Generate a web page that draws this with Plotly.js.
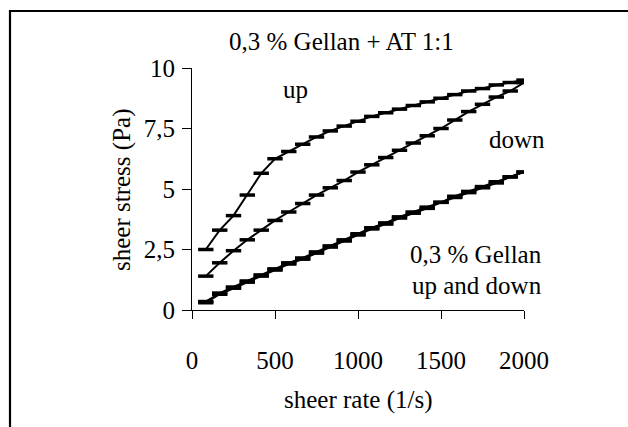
<!DOCTYPE html>
<html>
<head>
<meta charset="utf-8">
<script src="https://cdn.plot.ly/plotly-3.0.1.min.js"></script>
<style>
  html, body { margin: 0; padding: 0; background: #ffffff; }
  #chart { width: 628px; height: 427px; }
</style>
</head>
<body>
<div id="chart"></div>
<script>
// Shear rate steps (1/s)
const shearRate = [83, 167, 250, 333, 417, 500, 583, 667, 750, 833, 917, 1000,
                   1083, 1167, 1250, 1333, 1417, 1500, 1583, 1667, 1750, 1833, 1917, 2000];

// 0,3 % Gellan + AT 1:1, increasing shear rate (Pa)
const atUp = [2.5, 3.3, 3.9, 4.75, 5.65, 6.25, 6.55, 6.85, 7.15, 7.4, 7.6, 7.8,
              8.0, 8.15, 8.3, 8.45, 8.6, 8.75, 8.9, 9.05, 9.15, 9.3, 9.4, 9.5];

// 0,3 % Gellan + AT 1:1, decreasing shear rate (Pa)
const atDown = [1.4, 1.95, 2.45, 2.9, 3.3, 3.7, 4.05, 4.4, 4.75, 5.05, 5.35, 5.7,
                6.0, 6.3, 6.6, 6.9, 7.2, 7.5, 7.85, 8.2, 8.5, 8.8, 9.05, 9.4];

// 0,3 % Gellan alone, up and down curves (Pa)
const gellanUp = [0.35, 0.7, 0.95, 1.2, 1.45, 1.7, 1.95, 2.15, 2.4, 2.65, 2.9, 3.15,
                  3.4, 3.6, 3.85, 4.05, 4.25, 4.45, 4.7, 4.9, 5.1, 5.3, 5.5, 5.7];
const gellanDown = [0.3, 0.65, 0.9, 1.15, 1.4, 1.65, 1.9, 2.1, 2.35, 2.6, 2.85, 3.1,
                    3.35, 3.55, 3.8, 4.0, 4.2, 4.45, 4.65, 4.85, 5.05, 5.25, 5.5, 5.7];

const xTicks = [0, 500, 1000, 1500, 2000];
const yTicks = [0, 2.5, 5, 7.5, 10];

const FONT = 'Liberation Serif, Times New Roman, serif';

function series(y, name) {
  return {
    x: shearRate, y: y, name: name,
    type: 'scatter', mode: 'lines+markers',
    line: { color: '#000000', width: 2 },
    marker: { symbol: 'line-ew', size: 11, color: '#000000',
              line: { color: '#000000', width: 3.5 } },
    showlegend: false, hoverinfo: 'x+y'
  };
}

const data = [
  series(atUp, 'AT up'),
  series(atDown, 'AT down'),
  series(gellanUp, 'Gellan up'),
  series(gellanDown, 'Gellan down')
];

const baseAxis = {
  showgrid: false, zeroline: false, color: '#000000',
  tickcolor: '#000000', tickwidth: 1
};

const layout = {
  width: 628, height: 427,
  margin: { l: 192, r: 104, t: 68, b: 117 },
  paper_bgcolor: '#ffffff', plot_bgcolor: '#ffffff',
  separators: ', ',
  font: { family: FONT, size: 25, color: '#000000' },
  xaxis: Object.assign({}, baseAxis, {
    range: [0, 2000], tickvals: xTicks, ticks: 'outside', ticklen: 8,
    showline: true, linecolor: '#000000', linewidth: 1,
    ticklabelstandoff: 20, tickfont: { family: FONT, size: 25 }
  }),
  yaxis: Object.assign({}, baseAxis, {
    range: [0, 10], tickvals: yTicks, ticks: 'outside', ticklen: 9,
    showline: true, linecolor: '#000000', linewidth: 1,
    ticklabelstandoff: 2, tickfont: { family: FONT, size: 25 }
  }),
  // Mirror axes give the ticks their crossing halves
  xaxis2: Object.assign({}, baseAxis, {
    overlaying: 'x', side: 'bottom', range: [0, 2000], tickvals: xTicks,
    ticks: 'inside', ticklen: 8, showticklabels: false, showline: false
  }),
  yaxis2: Object.assign({}, baseAxis, {
    overlaying: 'y', side: 'left', range: [0, 10], tickvals: yTicks,
    ticks: 'inside', ticklen: 9, showticklabels: false, showline: false
  }),
  shapes: [
    { type: 'rect', xref: 'paper', yref: 'paper',
      x0: (10 - 192) / 332, x1: (640 - 192) / 332,
      y0: (311 - 440) / 242, y1: (311 - 12) / 242,
      line: { color: '#000000', width: 2.2 }, fillcolor: 'rgba(0,0,0,0)' }
  ],
  annotations: [
    { text: '0,3 % Gellan + AT 1:1', xref: 'paper', yref: 'paper',
      x: (341 - 192) / 332, y: (311 - 42) / 242, showarrow: false,
      xanchor: 'center', yanchor: 'middle', font: { family: FONT, size: 25 } },
    { text: 'up', xref: 'paper', yref: 'paper',
      x: (295 - 192) / 332, y: (311 - 90) / 242, showarrow: false,
      xanchor: 'center', yanchor: 'middle', font: { family: FONT, size: 25 } },
    { text: 'down', xref: 'paper', yref: 'paper',
      x: (547 - 192) / 332, y: (311 - 140) / 242, showarrow: false,
      xanchor: 'right', yanchor: 'middle', font: { family: FONT, size: 25 } },
    { text: '0,3 % Gellan', xref: 'paper', yref: 'paper',
      x: (544 - 192) / 332, y: (311 - 255) / 242, showarrow: false,
      xanchor: 'right', yanchor: 'middle', font: { family: FONT, size: 25 } },
    { text: 'up and down', xref: 'paper', yref: 'paper',
      x: (544 - 192) / 332, y: (311 - 286) / 242, showarrow: false,
      xanchor: 'right', yanchor: 'middle', font: { family: FONT, size: 25 } },
    { text: 'sheer rate (1/s)', xref: 'paper', yref: 'paper',
      x: 0.5, y: (311 - 401) / 242, showarrow: false,
      xanchor: 'center', yanchor: 'middle', font: { family: FONT, size: 25 } },
    { text: 'sheer stress (Pa)', xref: 'paper', yref: 'paper',
      x: (122 - 192) / 332, y: (311 - 191) / 242, showarrow: false, textangle: -90,
      xanchor: 'center', yanchor: 'middle', font: { family: FONT, size: 25 } }
  ]
};

Plotly.newPlot('chart', data, layout, { staticPlot: true, displayModeBar: false });
</script>
</body>
</html>
